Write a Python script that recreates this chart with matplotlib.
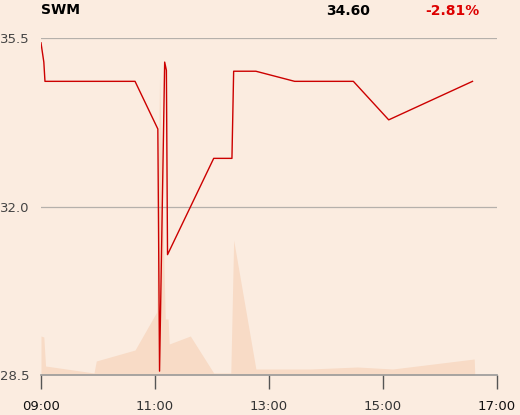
import matplotlib
matplotlib.use('Agg')
import matplotlib.pyplot as plt

# Kurs (Zeit in Stunden, Preis)
price_times = [9.00, 9.05, 9.07, 10.65, 11.05, 11.08, 11.17, 11.20, 11.22,
               12.03, 12.35, 12.38, 12.77, 13.45, 14.48, 15.10, 16.57]
price_values = [35.40, 35.00, 34.60, 34.60, 33.61, 28.58, 35.00, 34.83, 31.00,
                33.00, 33.00, 34.81, 34.81, 34.60, 34.60, 33.80, 34.60]

# Volumen (relative Einheiten)
volume_times = [9.00, 9.05, 9.08, 9.93, 9.97, 10.65, 11.03, 11.08, 11.18, 11.23,
                11.25, 11.62, 12.03, 12.33, 12.38, 12.77, 13.72, 14.55, 15.17,
                16.60, 16.61]
volume_values = [39, 38, 9, 2, 14, 25, 63, 300, 56, 56, 31, 39, 2, 2, 135, 6, 6,
                 8, 6, 16, 0]

x_ticks = [9, 11, 13, 15, 17]
x_labels = ['09:00', '11:00', '13:00', '15:00', '17:00']
y_ticks = [28.5, 32.0, 35.5]

symbol = 'SWM'
last_price = '34.60'
change = '-2.81%'

BG = '#fbece0'
VOL_COLOR = '#f8dbc6'
LINE_COLOR = '#cc0000'

fig = plt.figure(figsize=(5.2, 4.15), dpi=100, facecolor=BG)
ax = fig.add_axes([0.0788, 0.0964, 0.877, 0.812])
ax.set_facecolor('none')

vol_ax = ax.twinx()
vol_ax.set_zorder(ax.get_zorder() - 1)
ax.patch.set_visible(False)
vol_ax.patch.set_facecolor(BG)
vol_ax.patch.set_visible(True)
vol_ax.fill_between(volume_times, 0, volume_values, color=VOL_COLOR, linewidth=0)
vol_ax.set_ylim(0, 337)
vol_ax.set_yticks([])
for s in vol_ax.spines.values():
    s.set_visible(False)

# Gitterlinien
for y in y_ticks[1:]:
    ax.axhline(y, color='#b5b0ab', linewidth=0.9, zorder=1)

ax.plot(price_times, price_values, color=LINE_COLOR, linewidth=1.0, zorder=3)

ax.set_xlim(9, 17)
ax.set_ylim(28.5, 35.5)

ax.set_xticks(x_ticks)
ax.set_xticklabels(x_labels)
ax.set_yticks(y_ticks)
ax.set_yticklabels(['%.1f' % v for v in y_ticks])

ax.tick_params(axis='x', direction='out', length=10, width=1, color='#555555',
               labelsize=9.5, labelcolor='#333333', pad=8)
ax.tick_params(axis='y', length=0, labelsize=9.5, labelcolor='#444444', pad=8)
for lbl in ax.get_xticklabels():
    if lbl.get_text() in ('09:00', '17:00'):
        lbl.set_color('#111111')

for side in ('top', 'right', 'left'):
    ax.spines[side].set_visible(False)
ax.spines['bottom'].set_color('#999999')
ax.spines['bottom'].set_linewidth(1.2)

fig.text(41 / 520, 1 - 10 / 415, symbol, fontsize=10, fontweight='bold',
         color='#000000', ha='left', va='center')
fig.text(348 / 520, 1 - 11 / 415, last_price, fontsize=10, fontweight='bold',
         color='#000000', ha='center', va='center')
fig.text(452 / 520, 1 - 11 / 415, change, fontsize=10, fontweight='bold',
         color='#dd0000', ha='center', va='center')

plt.savefig('out.png', dpi=100, facecolor=BG)
